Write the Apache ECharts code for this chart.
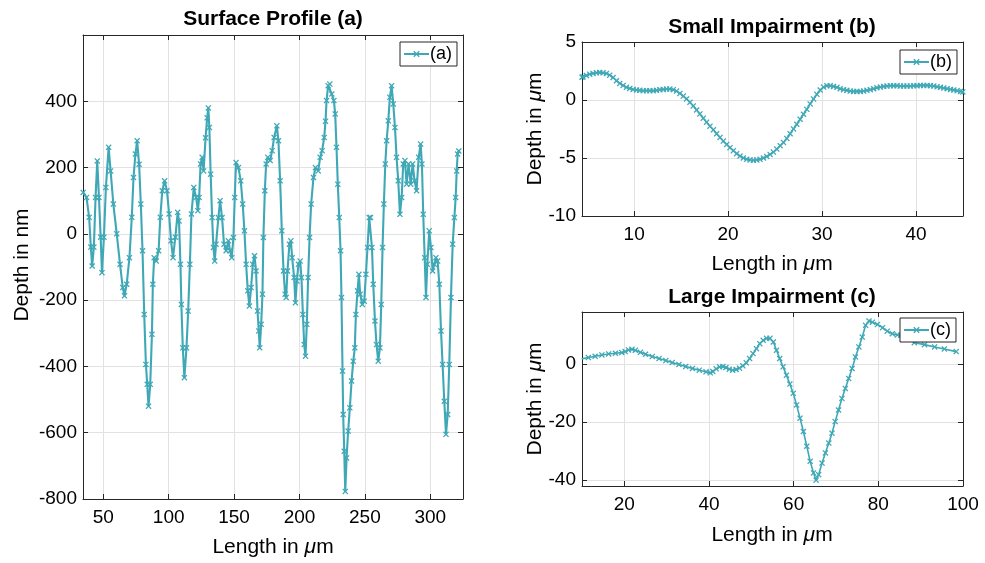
<!DOCTYPE html>
<html><head><meta charset="utf-8">
<script src="https://cdn.jsdelivr.net/npm/echarts@6/dist/echarts.min.js"></script>
<style>html,body{margin:0;padding:0;background:#fff}#c{width:985px;height:563px}</style>
</head><body><div id="c"></div>
<script>
// ---- Panel (a): Surface Profile ----
const profileA_x = [34.6,37.2,39.2,40.5,41.5,42.8,44.1,45.4,46.7,48,49,50.5,52,54.1,55.6,57.7,60.3,62.8,64.9,66.2,67.9,70,71.8,73.1,74.6,75.9,77.4,78.7,80,81.3,82.6,83.6,84.6,85.9,87.2,87.9,88.9,90.5,92.3,93.6,95.1,96.9,98.7,100.3,101.8,103.3,105.1,106.9,107.9,109,109.7,110.8,112,113.6,114.9,116.2,117.4,119.2,121,122.3,123.3,124.4,125.6,126.7,128.2,129.4,130.3,131.1,132.1,133.2,134.2,135.2,136.2,138,139.3,140.8,142.3,143.9,145.7,146.9,148.2,149.5,150.5,151.5,153.3,155.1,156.6,157.9,159.2,160.5,161.7,163,164.3,165.6,166.8,167.9,168.9,169.6,170.7,171.7,172.4,173.5,174.5,175.8,177.6,179.1,180.6,182.7,183.9,185.2,186.5,187.8,189,189.8,190.8,192.3,193.4,194.4,195.9,196.9,198,199.2,200.5,201.5,202.6,203.6,204.6,205.6,206.6,207.7,208.9,210.7,212.2,214.3,215.8,217.3,218.9,219.9,220.7,221.9,223.2,224.7,226.3,227.3,228.3,229.3,230.4,231.4,232.1,232.9,233.4,234.2,235,236,237.2,238.5,239.8,241.1,242.3,243.1,244.4,245.4,246.4,248,249.5,250.8,252,253.3,254.3,255.4,256.4,257.7,258.9,260.2,261.5,262.5,263.5,264.5,265.6,266.6,267.9,269.1,270.4,271.7,273,274.2,275.5,276.8,278.1,279.3,280.6,281.9,283.4,285,286.5,288,289.5,291.1,292.6,293.6,294.6,295.7,296.7,297.7,299.2,300.5,301.8,303.1,304.3,305.6,306.9,308.2,309.4,310.7,312,313.3,314.5,315.8,317.1,318.4,319.4,320.2,320.9,321.8];
const profileA_y = [125,110,50,-40,-97,-40,110,220,110,-10,-117,-10,140,261,190,90,0,-92,-162,-187,-152,-72,50,170,241,281,210,90,-51,-243,-394,-454,-520,-454,-303,-152,-72,-82,-51,50,130,160,130,60,-21,-72,-10,65,39,-92,-213,-344,-434,-344,-233,-92,60,140,110,70,110,211,231,190,290,350,380,321,180,49,-41,-82,-31,49,100,49,-31,-51,-21,-51,-72,-11,110,215,200,160,90,9,-92,-172,-218,-162,-92,-66,-112,-233,-293,-344,-273,-182,-11,130,211,231,221,251,291,326,281,160,9,-112,-182,-192,-112,-31,-21,-72,-132,-208,-142,-92,-82,-132,-243,-334,-369,-273,-132,-11,90,170,200,190,231,251,291,340,402,447,452,422,402,362,261,150,49,-51,-192,-414,-545,-656,-777,-676,-595,-525,-444,-384,-344,-243,-172,-122,-182,-213,-203,-122,-41,49,49,-41,-152,-263,-334,-384,-344,-213,-41,90,211,281,341,412,447,392,321,231,160,59,110,211,221,150,211,150,211,160,130,231,271,211,59,-72,-192,-92,9,-41,-112,-92,-72,-82,-152,-293,-394,-505,-605,-545,-394,-192,-31,49,110,190,241,250];

// ---- Panel (b): Small Impairment ----
const impB_x = [4.45,4.56,4.92,5.27,5.63,5.98,6.34,6.69,7.05,7.40,7.76,8.12,8.47,8.83,9.18,9.54,9.89,10.25,10.60,10.96,11.32,11.67,12.03,12.38,12.74,13.09,13.45,13.80,14.16,14.51,14.87,15.23,15.58,15.94,16.29,16.65,17.00,17.36,17.71,18.07,18.43,18.78,19.14,19.49,19.85,20.20,20.56,20.91,21.27,21.62,21.98,22.34,22.69,23.05,23.40,23.76,24.11,24.47,24.82,25.18,25.54,25.89,26.25,26.60,26.96,27.31,27.67,28.02,28.38,28.73,29.09,29.45,29.80,30.16,30.51,30.87,31.22,31.58,31.93,32.29,32.64,33.00,33.36,33.71,34.07,34.42,34.78,35.13,35.49,35.84,36.20,36.56,36.91,37.27,37.62,37.98,38.33,38.69,39.04,39.40,39.75,40.11,40.47,40.82,41.18,41.53,41.89,42.24,42.60,42.95,43.31,43.67,44.02,44.38,44.73,44.98];
const impB_y = [1.97,2.0,2.11,2.23,2.29,2.34,2.37,2.34,2.29,2.14,1.94,1.66,1.43,1.26,1.09,1.0,0.91,0.86,0.83,0.80,0.80,0.80,0.80,0.83,0.89,0.91,0.94,0.94,0.89,0.77,0.57,0.34,0.09,-0.2,-0.51,-0.86,-1.2,-1.57,-1.91,-2.26,-2.57,-2.91,-3.23,-3.54,-3.83,-4.11,-4.37,-4.63,-4.83,-5.0,-5.11,-5.17,-5.2,-5.17,-5.11,-5.0,-4.86,-4.69,-4.49,-4.23,-3.94,-3.66,-3.31,-2.91,-2.49,-2.09,-1.66,-1.23,-0.8,-0.34,0.09,0.49,0.86,1.11,1.23,1.23,1.17,1.09,0.97,0.89,0.83,0.77,0.74,0.74,0.74,0.77,0.83,0.89,0.97,1.06,1.11,1.17,1.2,1.23,1.23,1.23,1.2,1.2,1.2,1.2,1.23,1.23,1.26,1.26,1.26,1.23,1.2,1.14,1.09,1.03,0.97,0.91,0.86,0.8,0.74,0.7];

// ---- Panel (c): Large Impairment ----
const impC_x = [9.92,11.5,13.1,14.7,16.3,17.9,19.4,20.2,21.0,21.8,22.6,23.8,25.0,26.6,28.2,29.8,31.3,32.9,34.5,36.1,37.7,39.3,40.3,40.9,41.7,42.5,43.3,44.0,44.8,45.6,46.4,47.2,48.0,48.8,49.6,50.4,51.2,52.0,52.8,53.6,54.4,55.2,55.95,56.7,57.5,58.3,59.1,59.9,60.7,61.5,62.3,63.1,63.9,64.7,65.3,65.9,66.7,67.5,68.3,69.05,69.8,70.6,71.4,72.2,73.0,73.8,74.6,75.4,76.2,77.0,77.8,78.6,79.8,81.0,82.1,83.3,84.5,85.3,88.5,90.9,93.3,95.6,98.4];
const impC_y = [1.83,2.29,2.74,3.2,3.54,3.77,4.0,4.34,4.91,5.14,4.8,4.11,3.43,2.63,1.94,1.26,0.57,-0.11,-0.8,-1.49,-2.06,-2.63,-2.97,-2.51,-1.6,-0.91,-0.8,-1.14,-1.71,-2.06,-1.83,-1.37,-0.57,0.46,1.94,3.66,5.37,7.09,8.23,8.91,8.91,7.66,4.8,1.94,-0.91,-3.77,-6.86,-10.06,-14.06,-18.6,-23.2,-28.3,-33.5,-37.5,-40.0,-38.1,-34.1,-30.6,-27.2,-23.8,-19.8,-15.8,-11.8,-8.34,-4.91,-1.49,2.51,5.94,9.37,13.4,14.9,14.5,13.7,12.6,11.4,10.5,10.1,9.94,7.43,6.74,5.94,5.26,4.34];

const titles = ['Surface Profile (a)', 'Small Impairment (b)', 'Large Impairment (c)'];
const seriesNames = ['(a)', '(b)', '(c)'];

const FONT = 'Liberation Sans, Arial, Helvetica, sans-serif';
const COLOR = '#3fa8b6';
const XSYM = 'path://M0,1.5L1.5,0L5,3.5L8.5,0L10,1.5L6.5,5L10,8.5L8.5,10L5,6.5L1.5,10L0,8.5L3.5,5Z';

const pairs = (xs, ys) => xs.map((x, i) => [x, ys[i]]);

const grids = [
  {left: 83, top: 35, width: 380, height: 464},
  {left: 582, top: 42, width: 381, height: 174},
  {left: 582, top: 312, width: 381, height: 174}
];
const xRanges = [[34.5, 325, 5], [4.45, 45, 5], [10, 100, 5]];
const yRanges = [[-800, 600, 200], [-10, 5, 5], [-42, 18, null]];
const showMaxX = [false, false, true];
const showMaxY = [false, true, false];
const showMinY = [true, true, false];
const lineWidths = [2.1, 1.6, 1.6];

const axisLineStyle = {show: true, onZero: false, lineStyle: {color: '#262626', width: 1}};
const splitLineStyle = {show: true, lineStyle: {color: '#e2e2e2', width: 1}};
const tickStyle = {show: true, inside: true, length: 5, lineStyle: {color: '#262626', width: 1}};
const labelStyle = {color: '#000', fontSize: 19, fontFamily: FONT};

const xAxes = [], yAxes = [];
grids.forEach((g, i) => {
  const [xmin, xmax, xsplit] = xRanges[i];
  const [ymin, ymax, yint] = yRanges[i];
  xAxes.push({type: 'value', gridIndex: i, position: 'bottom', min: xmin, max: xmax, splitNumber: xsplit,
    axisLine: axisLineStyle, axisTick: tickStyle, splitLine: splitLineStyle,
    axisLabel: Object.assign({margin: 9, showMinLabel: false, showMaxLabel: showMaxX[i]}, labelStyle)});
  xAxes.push({type: 'value', gridIndex: i, position: 'top', min: xmin, max: xmax, splitNumber: xsplit,
    axisLine: axisLineStyle, axisTick: tickStyle, splitLine: {show: false}, axisLabel: {show: false}});
  const yBase = {type: 'value', gridIndex: i, min: ymin, max: ymax};
  if (yint) yBase.interval = yint; else yBase.splitNumber = 3;
  yAxes.push(Object.assign({}, yBase, {position: 'left',
    axisLine: axisLineStyle, axisTick: tickStyle, splitLine: splitLineStyle,
    axisLabel: Object.assign({margin: 6, showMinLabel: showMinY[i], showMaxLabel: showMaxY[i]}, labelStyle)}));
  yAxes.push(Object.assign({}, yBase, {position: 'right',
    axisLine: axisLineStyle, axisTick: tickStyle, splitLine: {show: false}, axisLabel: {show: false}}));
});

const dataSets = [pairs(profileA_x, profileA_y), pairs(impB_x, impB_y), pairs(impC_x, impC_y)];
const series = dataSets.map((d, i) => ({
  type: 'line', name: seriesNames[i], xAxisIndex: i * 2, yAxisIndex: i * 2, data: d,
  symbol: XSYM, symbolSize: 6, showAllSymbol: true, clip: true,
  lineStyle: {color: COLOR, width: lineWidths[i]}, itemStyle: {color: COLOR}, animation: false
}));

const legendPos = [[400, 42], [900, 50], [900, 318]];
const legends = seriesNames.map((n, i) => ({
  data: [n], left: legendPos[i][0], top: legendPos[i][1], orient: 'vertical',
  borderColor: '#262626', borderWidth: 1, backgroundColor: '#fff', borderRadius: 0,
  padding: [3, 5, 3, 3], itemWidth: 25, itemHeight: 8, itemGap: 0,
  textStyle: {fontSize: 18, color: '#000', fontFamily: FONT, padding: [0, 0, 0, -4]}
}));

const txt = (x, y, text, opts) => ({type: 'text', x: x, y: y, rotation: (opts && opts.rot) || 0,
  style: {text: text, fill: '#000', font: ((opts && opts.bold) ? 'bold ' : '') + ((opts && opts.size) || 21) + 'px ' + FONT,
    textAlign: 'center', textVerticalAlign: 'middle', verticalAlign: 'middle',
    rich: {i: {fontStyle: 'italic', fontSize: (opts && opts.size) || 21, fontFamily: FONT, fill: '#000'}}}});

const graphics = [
  txt(273, 19, titles[0], {bold: true}),
  txt(772, 27, titles[1], {bold: true}),
  txt(772, 297, titles[2], {bold: true}),
  txt(273, 547, 'Length in {i|\u03bc}m'),
  txt(772, 264, 'Length in {i|\u03bc}m'),
  txt(772, 535, 'Length in {i|\u03bc}m'),
  txt(22, 265, 'Depth in nm', {rot: Math.PI / 2}),
  txt(535, 129, 'Depth in {i|\u03bc}m', {rot: Math.PI / 2}),
  txt(535, 399, 'Depth in {i|\u03bc}m', {rot: Math.PI / 2})
];

const chart = echarts.init(document.getElementById('c'), null, {renderer: 'canvas'});
chart.setOption({
  animation: false,
  backgroundColor: '#fff',
  grid: grids,
  xAxis: xAxes,
  yAxis: yAxes,
  legend: legends,
  series: series,
  graphic: graphics
});
</script></body></html>
